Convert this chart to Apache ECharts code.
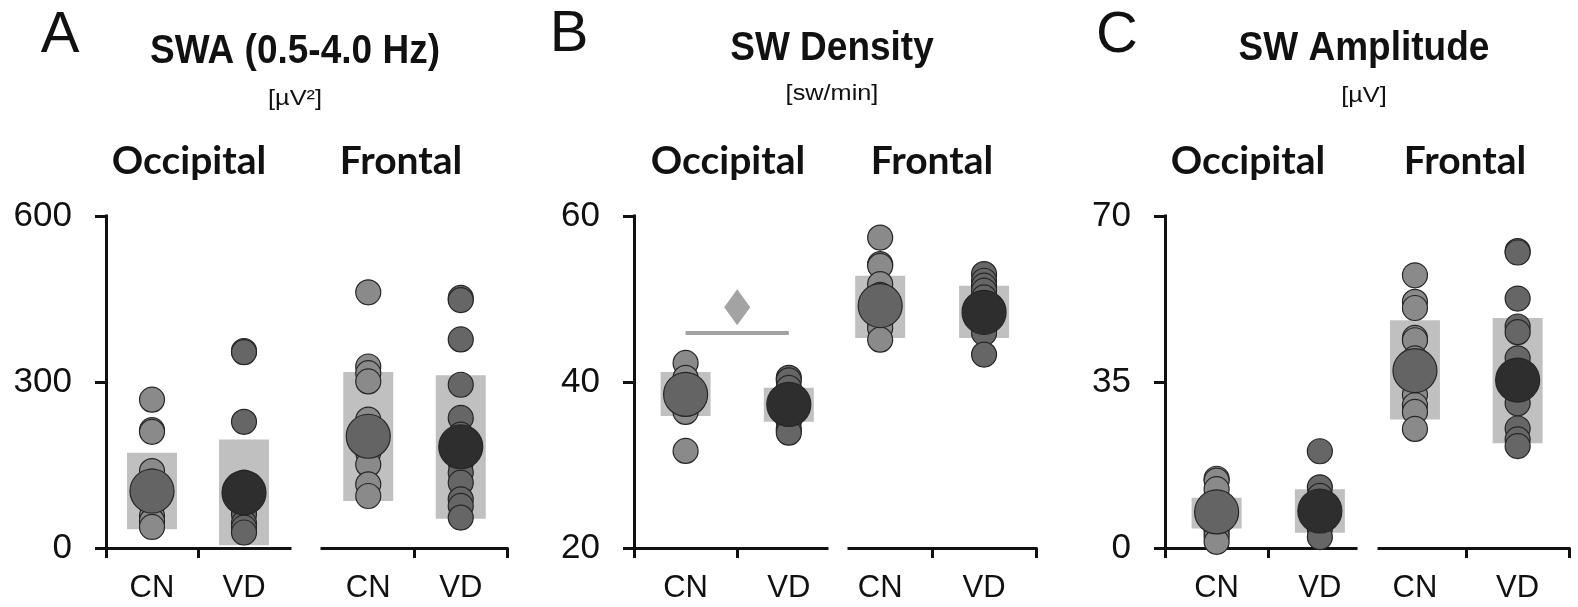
<!DOCTYPE html>
<html>
<head>
<meta charset="utf-8">
<title>Slow-wave measures by region and group</title>
<script src="https://cdn.jsdelivr.net/npm/echarts@6/dist/echarts.min.js"></script>
<style>
  html, body { margin: 0; padding: 0; background: #fff; }
  #chart { width: 1578px; height: 607px; }
</style>
</head>
<body>
<div id="chart"></div>
<script>
// Groups shown on every x axis
const groups = ['CN', 'VD'];
const regions = ['Occipital', 'Frontal'];

// Y-axis ticks per panel
const swaTicks = [0, 300, 600];
const denTicks = [20, 40, 60];
const ampTicks = [0, 35, 70];

// A: SWA (0.5-4.0 Hz) [µV²] — individual subjects
const swaOccCN = [268, 213, 210, 139, 120, 95, 78, 58, 49, 38];
const swaOccVD = [356, 354, 228, 118, 100, 82, 61, 45, 37, 28];
const swaFroCN = [462, 328, 316, 301, 232, 190, 172, 151, 115, 94];
const swaFroVD = [452, 448, 377, 295, 235, 205, 154, 136, 118, 88, 76, 55];
// group means and shaded ranges: Occ CN, Occ VD, Fro CN, Fro VD
const swaMean = [103, 100, 202, 183];
const swaLow = [34, 5, 85, 53];
const swaHigh = [172, 196, 318, 312];

// B: SW Density [sw/min]
const denOccCN = [42.3, 40.5, 39.5, 38.0, 37.0, 36.7, 36.4, 31.7];
const denOccVD = [40.5, 40.2, 39.3, 38.0, 37.0, 36.0, 35.2, 34.3, 33.9];
const denFroCN = [57.4, 54.2, 54.0, 51.8, 50.5, 48.0, 47.1, 46.5, 45.1];
const denFroVD = [53.0, 52.2, 51.6, 51.0, 50.2, 47.5, 46.5, 45.9, 43.3];
const denMean = [38.5, 37.3, 49.2, 48.4];
const denLow = [35.9, 35.2, 45.3, 45.3];
const denHigh = [41.2, 39.3, 52.8, 51.6];
// occipital CN vs VD difference: bracket level and marker level
const denSigLevel = 45.9;
const denSigMark = 49.0;

// C: SW Amplitude [µV]
const ampOccCN = [14.6, 14.2, 12.4, 9.0, 8.0, 6.5, 5.5, 3.5, 2.5, 1.3];
const ampOccVD = [20.4, 12.8, 11.0, 9.5, 8.0, 6.5, 5.5, 4.1, 2.3];
const ampFroCN = [57.5, 51.9, 50.6, 44.3, 43.8, 40.0, 35.0, 32.3, 30.1, 28.7, 25.1];
const ampFroVD = [62.6, 62.3, 52.6, 46.7, 45.5, 40.0, 33.0, 30.5, 25.2, 22.9, 21.5];
const ampMean = [7.6, 7.8, 37.4, 35.4];
const ampLow = [4.1, 3.2, 27.1, 22.1];
const ampHigh = [10.6, 12.4, 48.0, 48.5];

// ---- styling ----
const INK = '#111111';
const AXIS_W = 3;
const BAND_FILL = '#c0c0c0';
const DOT_CN = '#8a8a8a';
const DOT_VD = '#666666';
const MEAN_CN = '#646464';
const MEAN_VD = '#2e2e2e';
const DOT_BORDER = '#262626';
const SANS = '"Liberation Sans", Arial, sans-serif';
const LATO = 'Lato, "Open Sans", sans-serif';

const panels = [
  { ticks: swaTicks, pts: [[swaOccCN, swaOccVD], [swaFroCN, swaFroVD]], mean: swaMean, low: swaLow, high: swaHigh,
    grids: [{ left: 106, width: 184, min: -0.5, max: 1.5 }, { left: 322, width: 185, min: -0.5, max: 1.5 }] },
  { ticks: denTicks, pts: [[denOccCN, denOccVD], [denFroCN, denFroVD]], mean: denMean, low: denLow, high: denHigh,
    grids: [{ left: 634, width: 193, min: -0.5, max: 1.37 }, { left: 849, width: 187, min: -0.3, max: 1.5 }] },
  { ticks: ampTicks, pts: [[ampOccCN, ampOccVD], [ampFroCN, ampFroVD]], mean: ampMean, low: ampLow, high: ampHigh,
    grids: [{ left: 1165, width: 191, min: -0.5, max: 1.35 }, { left: 1379, width: 190, min: -0.35, max: 1.5 }] }
];

const grid = [], xAxis = [], yAxis = [], series = [];

function bandRender(params, api) {
  const x = api.value(0);
  const lo = api.coord([x, api.value(1)]);
  const hi = api.coord([x, api.value(2)]);
  const w = 50;
  return {
    type: 'rect',
    shape: { x: lo[0] - w / 2, y: hi[1], width: w, height: lo[1] - hi[1] },
    style: { fill: BAND_FILL }
  };
}

panels.forEach(function (p) {
  p.grids.forEach(function (g, r) {
    const gi = grid.length;
    grid.push({ left: g.left, width: g.width, top: 216, height: 332, containLabel: false });
    xAxis.push({
      type: 'value', gridIndex: gi, min: g.min, max: g.max,
      axisLine: { show: true, onZero: false, lineStyle: { color: INK, width: AXIS_W, cap: 'square' } },
      axisTick: { show: true, length: 10, customValues: r === 0 ? [-0.5, 0.5] : [0.5, 1.5],
                  lineStyle: { color: INK, width: AXIS_W } },
      axisLabel: { show: true, customValues: [0, 1], margin: 25, fontSize: 31, color: INK, fontFamily: SANS,
                   formatter: function (v) { return groups[Math.round(v)]; } },
      splitLine: { show: false }
    });
    yAxis.push({
      type: 'value', gridIndex: gi, show: r === 0,
      min: p.ticks[0], max: p.ticks[p.ticks.length - 1], interval: p.ticks[1] - p.ticks[0],
      axisLine: { show: true, onZero: false, lineStyle: { color: INK, width: AXIS_W, cap: 'square' } },
      axisTick: { show: true, length: 11, lineStyle: { color: INK, width: AXIS_W } },
      axisLabel: { show: true, margin: 34, fontSize: 35, color: INK, fontFamily: SANS },
      splitLine: { show: false }
    });

    // shaded range per group
    series.push({
      type: 'custom', xAxisIndex: gi, yAxisIndex: gi, z: 1, silent: true, clip: false,
      renderItem: bandRender, encode: { x: 0, y: [1, 2] },
      data: [0, 1].map(function (k) { return [k, p.low[r * 2 + k], p.high[r * 2 + k]]; })
    });
    // individual subjects
    [0, 1].forEach(function (k) {
      series.push({
        type: 'scatter', xAxisIndex: gi, yAxisIndex: gi, z: 2, silent: true,
        symbolSize: 25,
        itemStyle: { color: k === 0 ? DOT_CN : DOT_VD, borderColor: DOT_BORDER, borderWidth: 1.2, opacity: 1 },
        data: p.pts[r][k].map(function (v) { return [k, v]; })
      });
    });
    // group means
    series.push({
      type: 'scatter', xAxisIndex: gi, yAxisIndex: gi, z: 3, silent: true,
      symbolSize: 44,
      itemStyle: { opacity: 1 },
      data: [0, 1].map(function (k) {
        return { value: [k, p.mean[r * 2 + k]],
                 itemStyle: { color: k === 0 ? MEAN_CN : MEAN_VD, borderColor: DOT_BORDER, borderWidth: 1.2, opacity: 1 } };
      })
    });
  });
});

// significance bracket between CN and VD (density, occipital)
series.push({
  type: 'line', xAxisIndex: 2, yAxisIndex: 2, z: 4, silent: true, symbol: 'none',
  lineStyle: { color: '#a3a3a3', width: 4 },
  data: [[0, denSigLevel], [1, denSigLevel]]
});
series.push({
  type: 'scatter', xAxisIndex: 2, yAxisIndex: 2, z: 4, silent: true,
  symbol: 'diamond', symbolSize: [26, 36],
  itemStyle: { color: '#a3a3a3', opacity: 1 },
  data: [[0.5, denSigMark]]
});

function label(x, y, text, size, weight, family, sx, sy) {
  return {
    type: 'text', x: x, y: y, scaleX: sx || 1, scaleY: sy || 1, z: 10, silent: true,
    style: {
      text: text, fontSize: size, fontWeight: weight, fontFamily: family, fill: INK,
      align: 'center', verticalAlign: 'middle', textAlign: 'center', textVerticalAlign: 'middle'
    }
  };
}

const graphic = [
  label(60, 36, 'A', 58, 'normal', SANS),
  label(569, 35, 'B', 58, 'normal', SANS),
  label(1117, 36, 'C', 58, 'normal', SANS),
  label(295, 52, 'SWA (0.5-4.0 Hz)', 37, 'bold', SANS, 1, 1.08),
  label(832, 49, 'SW Density', 37, 'bold', SANS, 1, 1.08),
  label(1364, 49, 'SW Amplitude', 37, 'bold', SANS, 1, 1.08),
  label(295, 98.5, '[µV²]', 22, 'normal', SANS, 1.15, 1),
  label(832, 94, '[sw/min]', 22, 'normal', SANS, 1.15, 1),
  label(1364, 96, '[µV]', 22, 'normal', SANS, 1.15, 1),
  label(189, 161, regions[0], 39, 'bold', LATO),
  label(401, 161, regions[1], 39, 'bold', LATO),
  label(728, 161, regions[0], 39, 'bold', LATO),
  label(932, 161, regions[1], 39, 'bold', LATO),
  label(1248, 161, regions[0], 39, 'bold', LATO),
  label(1465, 161, regions[1], 39, 'bold', LATO)
];

const chart = echarts.init(document.getElementById('chart'), null, { renderer: 'canvas' });
chart.setOption({
  animation: false,
  backgroundColor: '#ffffff',
  grid: grid,
  xAxis: xAxis,
  yAxis: yAxis,
  series: series,
  graphic: graphic
});
</script>
</body>
</html>
